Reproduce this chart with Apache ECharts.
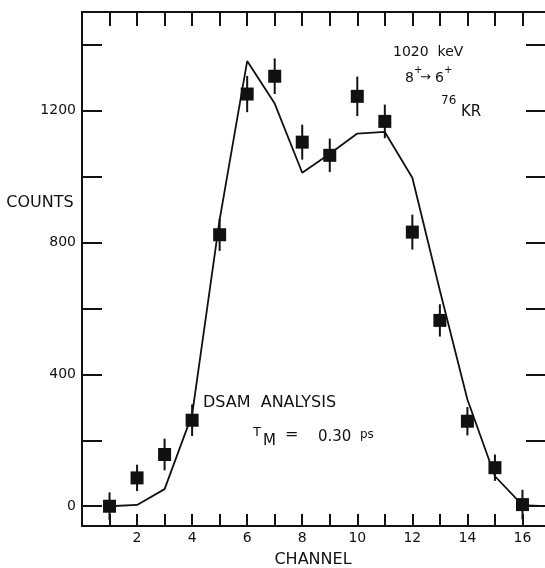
<!DOCTYPE html>
<html>
<head>
<meta charset="utf-8">
<script src="https://cdn.jsdelivr.net/npm/echarts@6/dist/echarts.min.js"></script>
<style>
  html, body { margin: 0; padding: 0; background: #fff; }
  #chart { width: 545px; height: 568px; }
</style>
</head>
<body>
<div id="chart"></div>
<script>
// Channel numbers of the measured spectrum
const channels = [1, 2, 3, 4, 5, 6, 7, 8, 9, 10, 11, 12, 13, 14, 15, 16];
// Measured counts per channel and their statistical errors
const counts = [0, 86, 157, 261, 824, 1251, 1305, 1105, 1065, 1244, 1168, 832, 564, 258, 117, 5];
const errors = [42, 40, 48, 48, 49, 55, 54, 53, 51, 60, 51, 53, 49, 43, 40, 45];
// DSAM line-shape calculation (tau_M = 0.30 ps)
const fitChannels = [1, 2, 3, 4, 5, 6, 7, 8, 9, 10, 11, 12, 13, 14, 15, 16, 17];
const fitCounts = [0, 4, 52, 278, 870, 1351, 1222, 1012, 1070, 1131, 1136, 997, 655, 324, 91, 3, 0];
// Axis ticks and labels
const yTicks = [0, 200, 400, 600, 800, 1000, 1200, 1400];
const yLabels = [0, 400, 800, 1200];
const xLabels = [2, 4, 6, 8, 10, 12, 14, 16];

const INK = '#111';
const FONT = '"DejaVu Sans", sans-serif';

const chart = echarts.init(document.getElementById('chart'), null, { renderer: 'canvas' });

const measured = channels.map((c, i) => [c, counts[i]]);
const bars = channels.map((c, i) => [c, counts[i] - errors[i], counts[i] + errors[i]]);
const fit = fitChannels.map((c, i) => [c, fitCounts[i]]);

const axisLine = { show: true, onZero: false, lineStyle: { color: INK, width: 2 } };
const baseX = {
  type: 'value', min: 0, max: 17, interval: 1,
  splitLine: { show: false }, axisLine: axisLine
};
const baseY = {
  type: 'value', min: -60, max: 1500,
  splitLine: { show: false }, axisLine: axisLine
};

function txt(text, x, y, size, align) {
  return {
    type: 'text', x: x, y: y, silent: true,
    style: {
      text: text, fill: INK, font: 'normal ' + size + 'px ' + FONT,
      align: align || 'left', verticalAlign: 'middle'
    }
  };
}

chart.setOption({
  backgroundColor: '#fff',
  animation: false,
  // the plot frame runs a few pixels past the right edge of the page
  grid: { left: 82, top: 12, width: 468, height: 514, outerBoundsMode: 'none', containLabel: false },
  xAxis: [
    Object.assign({}, baseX, {
      position: 'bottom',
      axisTick: { show: true, inside: true, length: 12, lineStyle: { color: INK, width: 2 } },
      axisLabel: {
        show: true, margin: 5, color: INK, fontFamily: FONT, fontSize: 14,
        showMinLabel: false, showMaxLabel: false,
        formatter: v => (xLabels.indexOf(v) >= 0 ? String(v) : '')
      }
    }),
    Object.assign({}, baseX, {
      position: 'top',
      axisTick: { show: true, inside: true, length: 14, lineStyle: { color: INK, width: 2 } },
      axisLabel: { show: false }
    })
  ],
  yAxis: [
    Object.assign({}, baseY, {
      position: 'left',
      axisTick: { show: true, inside: true, length: 20, customValues: yTicks, lineStyle: { color: INK, width: 2 } },
      axisLabel: {
        show: true, margin: 6, color: INK, fontFamily: FONT, fontSize: 14,
        customValues: yLabels, formatter: v => String(v)
      }
    }),
    Object.assign({}, baseY, {
      position: 'right',
      axisTick: { show: true, inside: true, length: 24, customValues: yTicks, lineStyle: { color: INK, width: 2 } },
      axisLabel: { show: false }
    })
  ],
  series: [
    {
      type: 'line', data: fit, xAxisIndex: 0, yAxisIndex: 0,
      symbol: 'none', smooth: false, z: 2,
      lineStyle: { color: INK, width: 1.8 }
    },
    {
      type: 'custom', data: bars, xAxisIndex: 0, yAxisIndex: 0, z: 3,
      renderItem: function (params, api) {
        const lo = api.coord([api.value(0), api.value(1)]);
        const hi = api.coord([api.value(0), api.value(2)]);
        return {
          type: 'line',
          shape: { x1: lo[0], y1: lo[1], x2: hi[0], y2: hi[1] },
          style: { stroke: INK, lineWidth: 2 }
        };
      },
      encode: { x: 0, y: [1, 2] }
    },
    {
      type: 'scatter', data: measured, xAxisIndex: 0, yAxisIndex: 0, z: 4,
      symbol: 'rect', symbolSize: 13,
      itemStyle: { color: INK, opacity: 1 }
    }
  ],
  graphic: [
    txt('COUNTS', 40, 203, 16, 'center'),
    txt('CHANNEL', 313, 560, 16, 'center'),
    txt('1020  keV', 393, 52, 14, 'left'),
    txt('8', 405, 78, 14, 'left'),
    txt('+', 414, 70, 10, 'left'),
    txt('\u2192', 420, 78, 13, 'left'),
    txt('6', 435, 78, 14, 'left'),
    txt('+', 444, 70, 10, 'left'),
    txt('76', 441, 101, 12, 'left'),
    txt('KR', 461, 112, 15, 'left'),
    txt('DSAM  ANALYSIS', 203, 403, 16, 'left'),
    txt('T', 253, 433, 13, 'left'),
    txt('M', 263, 441, 15, 'left'),
    txt('=', 285, 435, 16, 'left'),
    txt('0.30', 318, 437, 15, 'left'),
    txt('ps', 360, 435, 12, 'left')
  ]
});
</script>
</body>
</html>
